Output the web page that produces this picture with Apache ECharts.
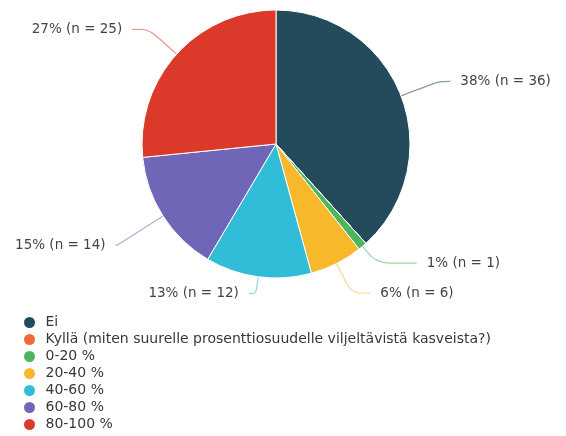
<!DOCTYPE html>
<html>
<head>
<meta charset="utf-8">
<script src="https://cdn.jsdelivr.net/npm/echarts@6/dist/echarts.min.js"></script>
<style>
    html, body { margin: 0; padding: 0; background: #fff; }
    #chart { width: 566px; height: 436px; }
</style>
</head>
<body>
<div id="chart"></div>
<script>
// answer categories and counts (n)
const categories = [
    'Ei',
    'Kyllä (miten suurelle prosenttiosuudelle viljeltävistä kasveista?)',
    '0-20 %',
    '20-40 %',
    '40-60 %',
    '60-80 %',
    '80-100 %'
];
const counts = [36, 0, 1, 6, 12, 14, 25];
const colors = ['#234b5b', '#ee6a37', '#4cb65c', '#f8b82c', '#31bcd7', '#7066b8', '#db3a2b'];

// label line lengths per slice, to follow the original layout
const lineLen = [40, 0, 22, 33, 17, 54, 37];
const lineLen2 = [12, 0, 40, 19, 7, 2, 17];

const total = counts.reduce((a, b) => a + b, 0);
const font = 'DejaVu Sans, Verdana, sans-serif';

const chart = echarts.init(document.getElementById('chart'));

const seriesData = categories.map((name, i) => {
    const item = {
        name: name,
        value: counts[i],
        itemStyle: { color: colors[i] },
        labelLine: { length: lineLen[i], length2: lineLen2[i] }
    };
    if (counts[i] === 0) {
        item.label = { show: false };
        item.labelLine = { show: false };
    }
    return item;
});

chart.setOption({
    animation: false,
    legend: {
        orient: 'vertical',
        left: 22,
        top: 315,
        padding: 0,
        icon: 'circle',
        itemWidth: 22,
        itemHeight: 13,
        itemGap: 2,
        selectedMode: false,
        textStyle: { color: '#383838', fontSize: 14, lineHeight: 15, fontFamily: font },
        data: categories
    },
    series: [{
        type: 'pie',
        center: [276, 144],
        radius: 134,
        startAngle: 90,
        clockwise: true,
        avoidLabelOverlap: false,
        itemStyle: { borderColor: '#fff', borderWidth: 1 },
        label: {
            color: '#444',
            fontSize: 13.5,
            fontFamily: font,
            distanceToLabelLine: 10,
            formatter: p => Math.round(p.value / total * 100) + '% (n = ' + p.value + ')'
        },
        labelLine: {
            smooth: 0.3,
            lineStyle: { width: 1.2, opacity: 0.55 }
        },
        emphasis: { disabled: true },
        data: seriesData
    }]
});
</script>
</body>
</html>
